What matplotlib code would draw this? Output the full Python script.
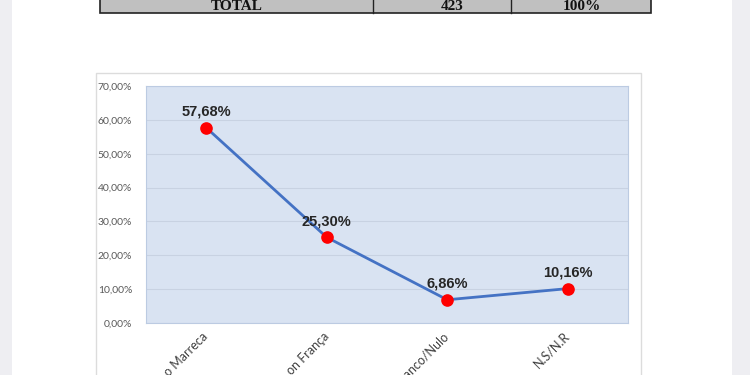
import matplotlib
matplotlib.use('Agg')
import matplotlib.pyplot as plt
from matplotlib.patches import Rectangle

# data
categorias = ['o Marreca', 'on França', 'Branco/Nulo', 'N.S/N.R']
percentuais = [57.68, 25.30, 6.86, 10.16]
yticks = [0, 10, 20, 30, 40, 50, 60, 70]
tabela_total = ['TOTAL', '423', '100%']

W, H = 750, 375
fig = plt.figure(figsize=(7.5, 3.75), dpi=100, facecolor='white')


def fx(px):
    return px / W


def fy(py):
    return 1 - py / H


# page background (grey margins of the screenshot)
fig.patches.append(Rectangle((0, 0), fx(12), 1, transform=fig.transFigure,
                             facecolor='#eeeef2', edgecolor='none', zorder=0))
fig.patches.append(Rectangle((fx(732), 0), 1 - fx(732), 1, transform=fig.transFigure,
                             facecolor='#eeeef2', edgecolor='none', zorder=0))

# table row at top
fig.patches.append(Rectangle((fx(100), fy(13)), fx(651) - fx(100), fy(-5) - fy(13),
                             transform=fig.transFigure, facecolor='#c0c0c0',
                             edgecolor='#222222', linewidth=1.2, zorder=0.5))
for xd in [373, 511]:
    fig.add_artist(plt.Line2D([fx(xd), fx(xd)], [fy(13), 1], transform=fig.transFigure,
                              color='#222222', linewidth=1, zorder=0.6))
for txt, xc in zip(tabela_total, [237, 452, 582]):
    fig.text(fx(xc), fy(6), txt, ha='center', va='center', fontsize=11,
             fontweight='bold', family='Liberation Serif', color='#111111')

# chart frame
fig.patches.append(Rectangle((fx(96), -0.05), fx(641) - fx(96), fy(73) + 0.05,
                             transform=fig.transFigure, facecolor='white',
                             edgecolor='#dcdcdc', linewidth=1, zorder=0.5))

ax = fig.add_axes([fx(146), fy(323), fx(628) - fx(146), fy(86) - fy(323)])
ax.set_zorder(2)
ax.set_facecolor('#d9e3f2')
for s in ax.spines.values():
    s.set_color('#bccbe2')
    s.set_linewidth(0.8)

x = list(range(len(categorias)))
ax.plot(x, percentuais, color='#4472c4', linewidth=2, zorder=3)
ax.scatter(x, percentuais, s=65, color='#ff0000', zorder=4)
for xi, v in zip(x, percentuais):
    ax.annotate(('%.2f' % v).replace('.', ',') + '%', (xi, v), xytext=(0, 11.5),
                textcoords='offset points', ha='center', va='center',
                fontsize=10.5, fontweight='bold', family='Liberation Sans', color='#262626')

ax.set_xlim(-0.5, len(categorias) - 0.5)
ax.set_ylim(0, 70)
ax.set_yticks(yticks)
ax.set_yticklabels([('%.2f' % t).replace('.', ',') + '%' for t in yticks],
                   fontsize=7.5, color='#595959', family='Lato')
ax.yaxis.grid(True, color='#c8d2e2', linewidth=0.8)
ax.set_axisbelow(True)
ax.set_xticks(x)
ax.set_xticklabels(categorias, rotation=45, ha='right', va='center',
                   rotation_mode='anchor', fontsize=9, color='#404040', family='Lato')
ax.tick_params(axis='both', length=0)
ax.tick_params(axis='x', pad=8)
ax.tick_params(axis='y', pad=10)

fig.savefig('out.png', dpi=100)
